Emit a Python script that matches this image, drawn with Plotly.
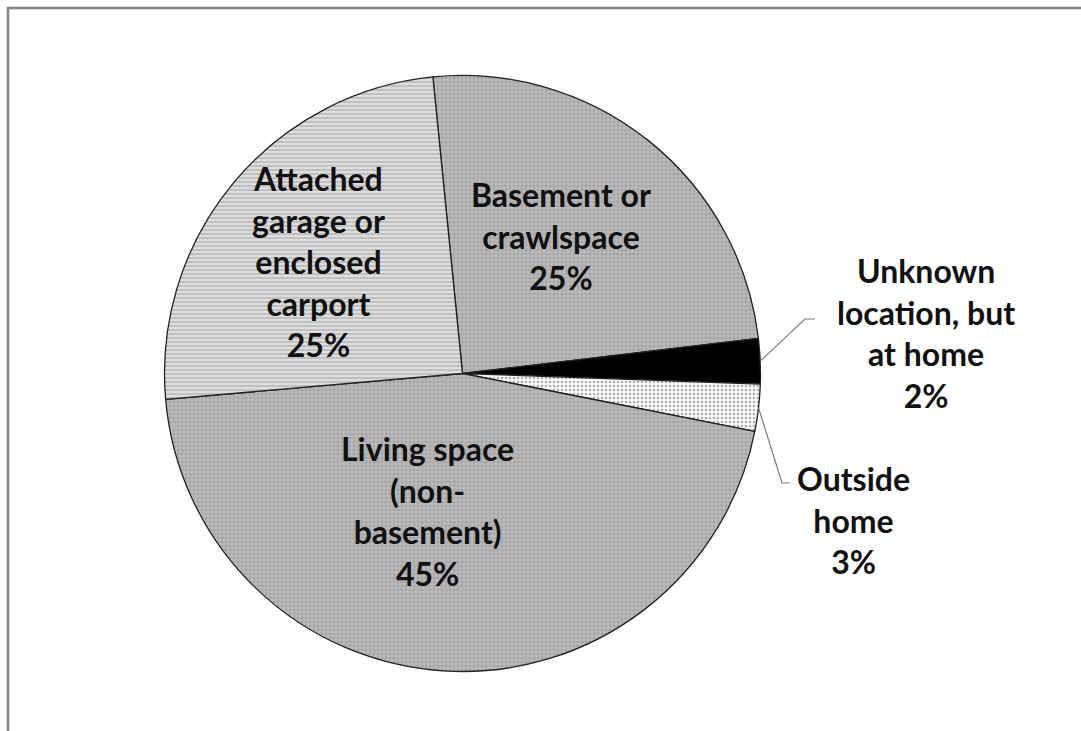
import math
import plotly.graph_objects as go

# ---- data ----
categories = ["Basement or crawlspace", "Unknown location, but at home", "Outside home",
              "Living space (non-basement)", "Attached garage or enclosed carport"]
values = [24.7, 2.45, 2.55, 45.5, 24.8]
label_text = ["Basement or<br>crawlspace<br>25%",
              "Unknown<br>location, but<br>at home<br>2%",
              "Outside<br>home<br>3%",
              "Living space<br>(non-<br>basement)<br>45%",
              "Attached<br>garage or<br>enclosed<br>carport<br>25%"]

W, H = 1081, 731
CX, CY, R = 462.5, 373.5, 298
ROT = -5.7

fills = ["#bdbdbd", "#000000", "#fbfbfb", "#bdbdbd", "#dedede"]
pat_shape = ["+", "", ".", "+", "-"]
pat_fg = ["#9a9a9a", "#000000", "#b0b0b0", "#9a9a9a", "#b4b4b4"]

fig = go.Figure()
fig.add_trace(go.Pie(
    labels=categories, values=values, sort=False, direction="clockwise",
    rotation=ROT, textinfo="none", hoverinfo="label+percent",
    showlegend=False,
    domain=dict(x=[(CX - R) / W, (CX + R) / W], y=[1 - (CY + R) / H, 1 - (CY - R) / H]),
    marker=dict(colors=fills, line=dict(color="#222222", width=1.3),
                pattern=dict(shape=pat_shape, fgcolor=pat_fg, bgcolor=fills, size=4, solidity=0.35)),
))

# label block centres (pixels)
label_pos = [(561, 236), (926, 333), (853, 520), (427, 511), (318, 261)]
font = dict(family="Lato, 'Open Sans', sans-serif", size=32, color="#111111")
for txt, (px, py) in zip(label_text, label_pos):
    fig.add_annotation(x=px / W, y=1 - py / H, xref="paper", yref="paper", text="<b>" + txt + "</b>",
                       showarrow=False, xanchor="center", yanchor="middle", font=font, align="center")

# leader lines from slice mid-angle on the rim
total = sum(values)
cum = 0
mids = []
for v in values:
    mids.append(ROT + (cum + v / 2) / total * 360)
    cum += v
elbows = {1: [(805, 319), (815, 319)], 2: [(782, 483), (790, 483)]}
for i, pts in elbows.items():
    a = math.radians(mids[i])
    sx, sy = CX + R * math.sin(a), CY - R * math.cos(a)
    path = "M {} {} ".format(sx / W, 1 - sy / H) + " ".join("L {} {}".format(x / W, 1 - y / H) for x, y in pts)
    fig.add_shape(type="path", xref="paper", yref="paper", path=path,
                  line=dict(color="#7a7a7a", width=1.2))

# outer frame (only top and left visible)
fig.add_shape(type="rect", xref="paper", yref="paper", x0=8 / W, y0=1 - 8 / H, x1=1.05, y1=-0.05,
              line=dict(color="#858585", width=2.5), layer="below")

fig.update_layout(width=W, height=H, margin=dict(l=0, r=0, t=0, b=0),
                  paper_bgcolor="white", plot_bgcolor="white")
fig.write_html("out.html", config={"displayModeBar": False},
               post_script="document.body.style.margin='0';document.body.style.overflow='hidden';")
